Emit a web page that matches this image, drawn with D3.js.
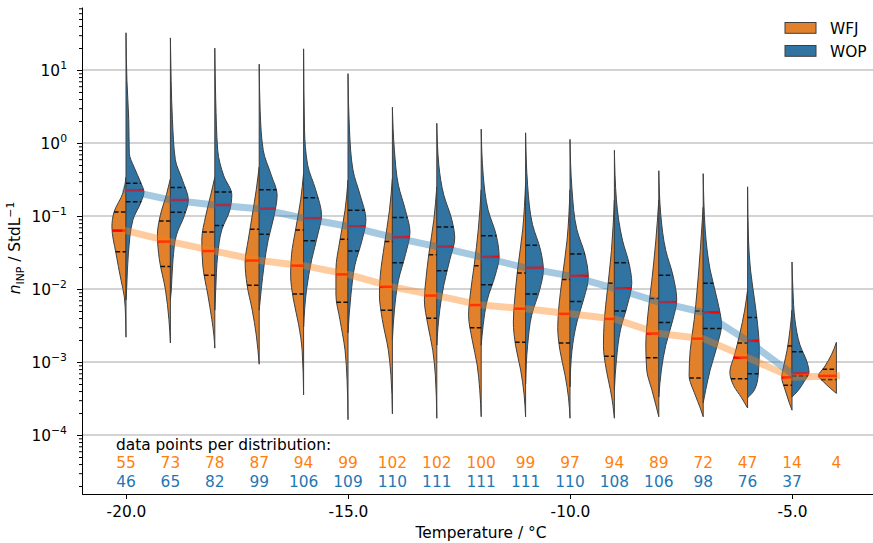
<!DOCTYPE html>
<html>
<head>
<meta charset="utf-8">
<script src="https://cdn.jsdelivr.net/npm/d3@7"></script>
<style>
  body { margin: 0; background: #fff; }
  svg { display: block; font-family: "DejaVu Sans", sans-serif; }
</style>
</head>
<body>
<svg id="chart" width="873" height="543"></svg>
<script>
var temps = [-20, -19, -18, -17, -16, -15, -14, -13, -12, -11, -10, -9, -8, -7, -6, -5, -4];
var wfjCounts = [55, 73, 78, 87, 94, 99, 102, 102, 100, 99, 97, 94, 89, 72, 47, 14, 4];
var wopCounts = [46, 65, 82, 99, 106, 109, 110, 111, 111, 111, 110, 108, 106, 98, 76, 37];

// quartiles and medians, as log10(n_INP / StdL^-1)
var wfjQ3 = [-0.945, -1.07, -1.22, -1.18, -1.19, -1.32, -1.35, -1.53, -1.68, -1.78, -1.87, -1.92, -2.13, -2.30, -2.74, -2.78, -3.10];
var wfjMed = [-1.20, -1.35, -1.48, -1.61, -1.68, -1.80, -1.97, -2.09, -2.22, -2.27, -2.34, -2.41, -2.61, -2.68, -2.94, -3.21, -3.19];
var wfjQ1 = [-1.49, -1.69, -1.81, -1.95, -2.07, -2.18, -2.29, -2.40, -2.53, -2.73, -2.74, -2.92, -2.94, -3.22, -3.23, -3.32, -3.24];
var wopQ3 = [-0.552, -0.61, -0.67, -0.64, -0.75, -0.92, -1.02, -1.15, -1.27, -1.40, -1.52, -1.64, -1.81, -1.92, -2.39, -2.86];
var wopMed = [-0.648, -0.78, -0.85, -0.90, -1.03, -1.14, -1.29, -1.42, -1.56, -1.71, -1.82, -1.99, -2.18, -2.32, -2.71, -3.16];
var wopQ1 = [-0.804, -0.95, -1.13, -1.25, -1.34, -1.48, -1.64, -1.75, -1.94, -2.07, -2.17, -2.30, -2.46, -2.54, -3.16, -3.19];

// half violin outlines: [log10 value, relative density]
var wfjShapes = [
  [[-0.47,0],[-0.68,0.16],[-0.95,0.66],[-1.15,0.77],[-1.51,0.55],[-1.88,0.27],[-2.11,0.09],[-2.4,0.02],[-2.66,0]],
  [[-0.49,0],[-0.71,0.22],[-0.99,0.55],[-1.26,0.71],[-1.6,0.6],[-2.01,0.27],[-2.42,0.08],[-2.74,0]],
  [[-0.47,0],[-0.71,0.22],[-0.99,0.49],[-1.33,0.71],[-1.67,0.66],[-2.08,0.38],[-2.42,0.16],[-2.63,0.05],[-2.81,0]],
  [[-0.33,0],[-0.64,0.16],[-0.99,0.38],[-1.33,0.6],[-1.63,0.77],[-1.95,0.66],[-2.29,0.38],[-2.63,0.16],[-3.03,0]],
  [[-0.41,0],[-0.78,0.16],[-1.19,0.44],[-1.53,0.66],[-1.81,0.71],[-2.15,0.55],[-2.49,0.27],[-2.84,0.08],[-3.45,0]],
  [[-0.51,0],[-0.92,0.16],[-1.33,0.44],[-1.74,0.66],[-2.08,0.66],[-2.42,0.44],[-2.84,0.16],[-3.25,0.05],[-3.79,0]],
  [[-0.49,0],[-0.92,0.16],[-1.40,0.44],[-1.81,0.66],[-2.08,0.71],[-2.42,0.55],[-2.84,0.22],[-3.18,0.08],[-3.71,0]],
  [[-0.60,0],[-1.05,0.16],[-1.53,0.44],[-1.88,0.6],[-2.15,0.68],[-2.49,0.49],[-2.84,0.22],[-3.18,0.08],[-3.77,0]],
  [[-0.64,0],[-1.19,0.16],[-1.67,0.38],[-2.08,0.6],[-2.36,0.69],[-2.70,0.49],[-3.04,0.22],[-3.38,0.08],[-3.75,0]],
  [[-0.55,0],[-1.19,0.16],[-1.74,0.44],[-2.15,0.6],[-2.45,0.67],[-2.77,0.55],[-3.11,0.27],[-3.45,0.08],[-3.75,0]],
  [[-0.64,0],[-1.33,0.16],[-1.88,0.44],[-2.22,0.6],[-2.53,0.67],[-2.84,0.55],[-3.18,0.27],[-3.49,0.08],[-3.77,0]],
  [[-0.78,0],[-1.47,0.16],[-2.01,0.38],[-2.42,0.55],[-2.77,0.6],[-3.11,0.44],[-3.38,0.22],[-3.59,0.08],[-3.77,0]],
  [[-0.78,0],[-1.33,0.16],[-1.88,0.38],[-2.36,0.6],[-2.77,0.71],[-3.11,0.66],[-3.38,0.38],[-3.59,0.16],[-3.75,0]],
  [[-0.88,0],[-1.47,0.16],[-2.01,0.33],[-2.42,0.49],[-2.84,0.71],[-3.18,0.77],[-3.45,0.44],[-3.63,0.16],[-3.75,0]],
  [[-2.01,0],[-2.29,0.16],[-2.63,0.44],[-2.90,0.71],[-3.14,0.97],[-3.32,0.77],[-3.49,0.33],[-3.63,0]],
  [[-2.29,0],[-2.56,0.11],[-2.84,0.27],[-3.04,0.44],[-3.21,0.56],[-3.38,0.38],[-3.55,0.16],[-3.66,0]],
  [[-2.73,0],[-2.90,0.27],[-3.07,0.66],[-3.19,0.98],[-3.27,0.71],[-3.36,0.33],[-3.43,0]]
];
var wopShapes = [
  [[1.51,0],[0.86,0.05],[0.32,0.15],[-0.14,0.18],[-0.33,0.44],[-0.55,0.82],[-0.67,0.98],[-0.81,0.82],[-1.05,0.38],[-1.51,0.13],[-1.97,0.04],[-2.15,0]],
  [[1.44,0],[0.86,0.04],[0.32,0.11],[-0.23,0.27],[-0.51,0.66],[-0.78,0.98],[-0.99,0.77],[-1.26,0.33],[-1.6,0.14],[-2.01,0.05],[-2.15,0]],
  [[1.30,0],[0.59,0.05],[-0.1,0.16],[-0.45,0.49],[-0.71,0.93],[-0.92,0.82],[-1.19,0.38],[-1.53,0.16],[-2.01,0.05],[-2.29,0]],
  [[1.08,0],[0.45,0.05],[-0.1,0.22],[-0.44,0.66],[-0.71,0.98],[-0.99,0.82],[-1.33,0.49],[-1.67,0.27],[-2.01,0.11],[-2.29,0]],
  [[1.29,0],[0.18,0.05],[-0.30,0.22],[-0.64,0.66],[-0.99,0.98],[-1.26,0.77],[-1.6,0.44],[-2.01,0.16],[-2.52,0]],
  [[0.95,0],[0.18,0.08],[-0.37,0.27],[-0.71,0.66],[-1.05,0.98],[-1.33,0.77],[-1.67,0.38],[-2.08,0.16],[-2.60,0]],
  [[0.49,0],[-0.1,0.11],[-0.58,0.33],[-0.92,0.71],[-1.22,0.96],[-1.53,0.71],[-1.88,0.33],[-2.29,0.11],[-2.70,0]],
  [[0.27,0],[-0.30,0.11],[-0.71,0.38],[-1.05,0.82],[-1.30,0.98],[-1.60,0.71],[-1.95,0.38],[-2.29,0.16],[-2.77,0]],
  [[0.19,0],[-0.44,0.11],[-0.92,0.38],[-1.26,0.82],[-1.56,0.98],[-1.81,0.77],[-2.15,0.33],[-2.49,0.11],[-2.77,0]],
  [[0.14,0],[-0.58,0.11],[-1.12,0.38],[-1.47,0.82],[-1.74,0.97],[-2.01,0.77],[-2.36,0.33],[-2.77,0.11],[-3.30,0]],
  [[0.05,0],[-0.64,0.11],[-1.19,0.38],[-1.53,0.82],[-1.84,1.0],[-2.12,0.77],[-2.45,0.38],[-2.84,0.11],[-3.34,0]],
  [[-0.1,0],[-0.78,0.11],[-1.33,0.44],[-1.67,0.82],[-1.92,0.95],[-2.22,0.71],[-2.56,0.33],[-2.97,0.11],[-3.38,0]],
  [[-0.38,0],[-0.99,0.11],[-1.47,0.38],[-1.81,0.77],[-2.15,0.98],[-2.42,0.77],[-2.77,0.38],[-3.11,0.14],[-3.48,0]],
  [[-0.42,0],[-1.19,0.11],[-1.74,0.38],[-2.15,0.77],[-2.49,1.0],[-2.77,0.77],[-3.11,0.38],[-3.38,0.14],[-3.56,0]],
  [[-0.60,0],[-1.33,0.05],[-1.74,0.16],[-2.15,0.38],[-2.49,0.55],[-2.84,0.64],[-3.18,0.58],[-3.38,0.38],[-3.49,0]],
  [[-1.63,0],[-2.01,0.05],[-2.42,0.16],[-2.77,0.44],[-3.00,0.82],[-3.14,0.93],[-3.27,0.66],[-3.41,0.27],[-3.48,0]]
];

var yTickExps = [-4, -3, -2, -1, 0, 1];
var xTicks = [-20, -15, -10, -5];
var seriesNames = ["WFJ", "WOP"];

var fillColors = ["#e1812c", "#3274a1"];
var textColors = ["#ff7f0e", "#1f77b4"];
var edge = "#3f3f3f";
var fontSize = 15.4;

var svg = d3.select("#chart");
var plotLeft = 82, plotBottom = 494, plotTop = 7;

var x = d3.scaleLinear().domain([-21, -3]).range([81.6, 880.8]);
var y = d3.scaleLog().domain([Math.pow(10, -4.808), Math.pow(10, 1.863)]).range([plotBottom, plotTop]);
var wScale = d3.scaleLinear().domain([0, 1]).range([0, 0.412 * (x(-19) - x(-20))]);
var yv = function(e) { return y(Math.pow(10, e)); };

// grid
svg.append("g").selectAll("line")
    .data(yTickExps)
    .enter().append("line")
    .attr("x1", plotLeft).attr("x2", 873)
    .attr("y1", function(d) { return yv(d); })
    .attr("y2", function(d) { return yv(d); })
    .style("stroke", "#c4c4c4")
    .style("stroke-width", 1.5);

var violins = svg.append("g");
var inner = svg.append("g");

// width of a half violin at a given pixel height
var widthAt = function(node, yq, cx) {
  var len = node.getTotalLength();
  var prev = node.getPointAtLength(0);
  for (var s = 1; s <= 400; s++) {
    var p = node.getPointAtLength(len * s / 400);
    if ((prev.y - yq) * (p.y - yq) <= 0 && p.y !== prev.y) {
      var t = (yq - prev.y) / (p.y - prev.y);
      return Math.abs(prev.x + t * (p.x - prev.x) - cx);
    }
    prev = p;
  }
  return 0;
};

var halfViolin = function(shape, cx, side, color, quarts, med) {
  var outline = d3.line()
      .x(function(p) { return cx + side * wScale(p[1]); })
      .y(function(p) { return yv(p[0]); })
      .curve(d3.curveMonotoneY);
  var path = violins.append("path")
      .attr("d", outline(shape) + "Z")
      .style("fill", color)
      .style("stroke", edge)
      .style("stroke-width", 1);
  var node = path.node();
  quarts.forEach(function(q) {
    var w = widthAt(node, yv(q), cx);
    inner.append("line")
        .attr("x1", side < 0 ? cx - w : cx).attr("x2", side < 0 ? cx : cx + w)
        .attr("y1", yv(q)).attr("y2", yv(q))
        .style("stroke", "#111")
        .style("stroke-width", 1.5)
        .style("stroke-dasharray", "4.5,2.4");
  });
  var wm = widthAt(node, yv(med), cx);
  inner.append("line")
      .attr("x1", side < 0 ? cx - wm : cx).attr("x2", side < 0 ? cx : cx + wm)
      .attr("y1", yv(med)).attr("y2", yv(med))
      .style("stroke", "#ff0000")
      .style("stroke-width", 2.5);
};

temps.forEach(function(t, i) {
  var cx = x(t);
  halfViolin(wfjShapes[i], cx, -1, fillColors[0], [wfjQ3[i], wfjQ1[i]], wfjMed[i]);
  if (i < wopShapes.length)
    halfViolin(wopShapes[i], cx, 1, fillColors[1], [wopQ3[i], wopQ1[i]], wopMed[i]);
});

// median trend lines
var trend = d3.line()
    .x(function(d) { return x(d[0]); })
    .y(function(d) { return yv(d[1]); });
[[wfjMed, textColors[0]], [wopMed, textColors[1]]].forEach(function(s) {
  svg.append("path")
      .attr("d", trend(s[0].map(function(m, i) { return [temps[i], m]; })))
      .style("fill", "none")
      .style("stroke", s[1])
      .style("stroke-opacity", 0.4)
      .style("stroke-width", 7)
      .style("stroke-linecap", "square")
      .style("stroke-linejoin", "round");
});

// counts
var notes = svg.append("g").style("font-size", fontSize + "px");
notes.append("text")
    .attr("x", 116).attr("y", plotBottom - 44)
    .text("data points per distribution:");
[[wfjCounts, textColors[0], plotBottom - 26], [wopCounts, textColors[1], plotBottom - 7.5]].forEach(function(r) {
  notes.selectAll(null)
      .data(r[0])
      .enter().append("text")
      .attr("x", function(d, i) { return x(temps[i]); })
      .attr("y", r[2])
      .attr("text-anchor", "middle")
      .style("fill", r[1])
      .text(function(d) { return d; });
});

// legend
var legend = svg.append("g").style("font-size", fontSize + "px");
seriesNames.forEach(function(name, i) {
  legend.append("rect")
      .attr("x", 785).attr("y", 22.5 + i * 23)
      .attr("width", 31).attr("height", 10.8)
      .style("fill", fillColors[i])
      .style("stroke", edge)
      .style("stroke-width", 1);
  legend.append("text")
      .attr("x", 830).attr("y", 33.5 + i * 23)
      .text(name);
});

// axes
var minors = [];
for (var e = -5; e <= 1; e++)
  for (var k = 2; k <= 9; k++) {
    var v = k * Math.pow(10, e);
    if (v > y.domain()[0] && v < y.domain()[1]) minors.push(v);
  }

var yAxis = svg.append("g").attr("transform", "translate(" + plotLeft + ",0)");
yAxis.call(d3.axisLeft(y).tickValues(yTickExps.map(function(d) { return Math.pow(10, d); }))
    .tickSize(5).tickSizeOuter(0).tickFormat(""));
yAxis.append("g").call(d3.axisLeft(y).tickValues(minors).tickSize(3).tickSizeOuter(0).tickFormat(""))
    .select(".domain").remove();
yAxis.selectAll("line, path").style("stroke", "#000").style("stroke-width", 1);

var yLabels = svg.append("g").style("font-size", fontSize + "px");
yTickExps.forEach(function(d) {
  var txt = yLabels.append("text")
      .attr("x", 67).attr("y", yv(d) + 5.5)
      .attr("text-anchor", "end");
  txt.append("tspan").text("10");
  txt.append("tspan").attr("dy", -6.5).style("font-size", "10.8px")
      .text(d < 0 ? "\u2212" + (-d) : String(d));
});

var xAxis = svg.append("g").attr("transform", "translate(0," + plotBottom + ")");
xAxis.call(d3.axisBottom(x).tickValues(xTicks).tickSize(5).tickSizeOuter(0)
    .tickFormat(function(d) { return d.toFixed(1); }));
xAxis.selectAll("line, path").style("stroke", "#000").style("stroke-width", 1);
xAxis.selectAll("text")
    .attr("y", 12).attr("dy", "0.71em")
    .style("font-family", "DejaVu Sans").style("font-size", fontSize + "px").style("fill", "#000");

svg.append("text")
    .attr("x", 481).attr("y", 538)
    .attr("text-anchor", "middle")
    .style("font-size", fontSize + "px")
    .text("Temperature / \u00b0C");

var yTitle = svg.append("text")
    .attr("transform", "translate(20,248) rotate(-90)")
    .attr("text-anchor", "middle")
    .style("font-size", fontSize + "px");
yTitle.append("tspan").style("font-style", "italic").text("n");
yTitle.append("tspan").attr("dy", 3.5).style("font-size", "10.8px").text("INP");
yTitle.append("tspan").attr("dy", -3.5).text(" / StdL");
yTitle.append("tspan").attr("dy", -6.5).style("font-size", "10.8px").text("\u22121");
</script>
</body>
</html>
